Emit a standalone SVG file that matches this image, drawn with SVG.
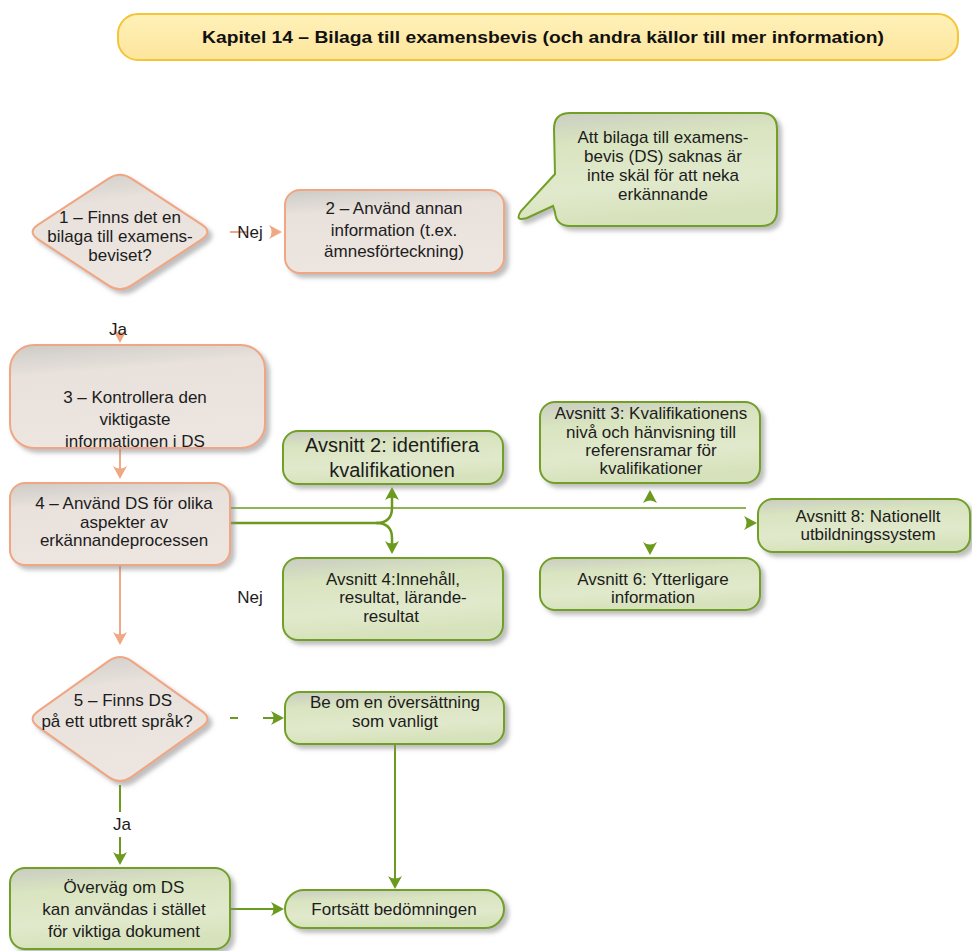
<svg xmlns="http://www.w3.org/2000/svg" width="972" height="951" viewBox="0 0 972 951">
  <defs>
    <style>
      .t { font-family: "Liberation Sans", Arial, sans-serif; font-size: 17px; fill: #1c1c1c; text-anchor: middle; }
      .big { font-size: 20px; }
      .title { font-family: "Liberation Sans", Arial, sans-serif; font-size: 17px; font-weight: bold; fill: #111; text-anchor: middle; }
      .pink { fill: url(#gPink); stroke: #f0a682; stroke-width: 2; filter: url(#sh); }
      .green { fill: url(#gGreen); stroke: #72a027; stroke-width: 2; filter: url(#sh); }
      .cg { stroke: #6b9a1f; fill: none; }
      .cs { stroke: #f0a783; fill: none; stroke-width: 2; }
    </style>
    <filter id="sh" x="-10%" y="-10%" width="130%" height="140%">
      <feDropShadow dx="4" dy="4" stdDeviation="2" flood-color="#8a8a8a" flood-opacity="0.55"/>
    </filter>
    <linearGradient id="gPink" x1="0" y1="0" x2="0.2" y2="1">
      <stop offset="0" stop-color="#cdcbc6"/>
      <stop offset="0.3" stop-color="#e8e1dc"/>
      <stop offset="1" stop-color="#ece5e0"/>
    </linearGradient>
    <linearGradient id="gGreen" x1="0" y1="0" x2="0.2" y2="1">
      <stop offset="0" stop-color="#c9ccc2"/>
      <stop offset="0.3" stop-color="#d9e4c0"/>
      <stop offset="0.7" stop-color="#e1e9cc"/>
      <stop offset="1" stop-color="#d6e2bb"/>
    </linearGradient>
    <linearGradient id="gTitle" x1="0" y1="0" x2="0" y2="1">
      <stop offset="0" stop-color="#fff1b8"/>
      <stop offset="1" stop-color="#fde59c"/>
    </linearGradient>
    <!-- concave arrowheads, tip at origin pointing along +x -->
    <path id="ahG" d="M0,0 L-13,-7 Q-8,0 -13,7 Z" fill="#6b9a1f"/>
    <path id="ahS" d="M0,0 L-13,-7 Q-8,0 -13,7 Z" fill="#f0a783"/>
  </defs>

  <rect width="972" height="951" fill="#ffffff"/>

  <!-- heading -->
  <g id="title">
    <rect x="118" y="14" width="840" height="46" rx="20" fill="url(#gTitle)" stroke="#f6c438" stroke-width="2"/>
    <text class="title" x="543" y="43" textLength="682" lengthAdjust="spacingAndGlyphs">Kapitel 14 – Bilaga till examensbevis (och andra källor till mer information)</text>
  </g>

  <!-- connectors -->
  <g id="connectors">
    <!-- 1 -> 2 (Nej) -->
    <line class="cs" x1="230" y1="232" x2="248" y2="232"/>
    <use href="#ahS" transform="translate(282,232)"/>
    <!-- 1 -> 3 (Ja) -->
    <use href="#ahS" transform="translate(120,343) rotate(90)"/>
    <!-- 3 -> 4 -->
    <line class="cs" x1="120" y1="428" x2="120" y2="470"/>
    <use href="#ahS" transform="translate(120,479) rotate(90)"/>
    <!-- 4 -> 5 -->
    <line class="cs" x1="120" y1="565" x2="120" y2="636"/>
    <use href="#ahS" transform="translate(120,645) rotate(90)"/>

    <!-- 4 -> sections -->
    <line class="cg" stroke-width="1.5" x1="230" y1="508" x2="746" y2="508"/>
    <path class="cg" stroke-width="2.5" d="M230,523 L376,523 Q392,523 392,508 L392,497"/>
    <path class="cg" stroke-width="2.5" d="M376,523 Q392,523 392,538 L392,545"/>
    <use href="#ahG" transform="translate(392,487) rotate(-90)"/>
    <use href="#ahG" transform="translate(392,554) rotate(90)"/>
    <use href="#ahG" transform="translate(650,490) rotate(-90)"/>
    <use href="#ahG" transform="translate(650,555) rotate(90)"/>
    <use href="#ahG" transform="translate(757,523)"/>

    <!-- 5 -> translation -->
    <line class="cg" stroke-width="2" x1="230" y1="718" x2="238" y2="718"/>
    <line class="cg" stroke-width="2" x1="263" y1="718" x2="276" y2="718"/>
    <use href="#ahG" transform="translate(284,718)"/>
    <!-- translation -> continue -->
    <line class="cg" stroke-width="2" x1="395" y1="744" x2="395" y2="880"/>
    <use href="#ahG" transform="translate(395,889) rotate(90)"/>
    <!-- 5 -> consider (Ja) -->
    <line class="cg" stroke-width="2" x1="120" y1="785" x2="120" y2="812"/>
    <line class="cg" stroke-width="2" x1="120" y1="837" x2="120" y2="856"/>
    <use href="#ahG" transform="translate(120,865) rotate(90)"/>
    <!-- consider -> continue -->
    <line class="cg" stroke-width="2" x1="230" y1="909" x2="276" y2="909"/>
    <use href="#ahG" transform="translate(284,909)"/>

    <text class="t" x="250" y="238" font-size="16">Nej</text>
    <text class="t" x="118" y="335" font-size="16">Ja</text>
    <text class="t" x="250" y="603" font-size="16">Nej</text>
    <text class="t" x="122" y="830" font-size="16">Ja</text>
  </g>

  <!-- 1: decision -->
  <g id="n1">
    <path class="pink" d="M131.2,178.3 L201.8,224.7 Q213,232 201.8,239.3 L131.2,285.7 Q120,293 108.8,285.7 L38.2,239.3 Q27,232 38.2,224.7 L108.8,178.3 Q120,171 131.2,178.3 Z"/>
    <text class="t" x="120" y="223">1 – Finns det en</text>
    <text class="t" x="120" y="242">bilaga till examens-</text>
    <text class="t" x="120" y="261">beviset?</text>
  </g>

  <!-- 2 -->
  <g id="n2">
    <rect class="pink" x="285" y="190" width="219" height="83" rx="15"/>
    <text class="t" x="394" y="214">2 – Använd annan</text>
    <text class="t" x="394" y="236">information (t.ex.</text>
    <text class="t" x="394" y="257">ämnesförteckning)</text>
  </g>

  <!-- note -->
  <g id="note">
    <path class="green" d="M570,113 L761,113 Q777,113 777,129 L777,210 Q777,226 761,226 L570,226 Q556,226 555,212 L553,206 Q540,212 527,218 Q514,222 521,211 L555,174 L554,129 Q554,113 570,113 Z"/>
    <text class="t" x="663" y="143">Att bilaga till examens-</text>
    <text class="t" x="663" y="162">bevis (DS) saknas är</text>
    <text class="t" x="663" y="181">inte skäl för att neka</text>
    <text class="t" x="663" y="200">erkännande</text>
  </g>

  <!-- 3 -->
  <g id="n3">
    <rect class="pink" x="10" y="345" width="255" height="103" rx="24"/>
    <text class="t" x="135" y="403">3 – Kontrollera den</text>
    <text class="t" x="135" y="425">viktigaste</text>
    <text class="t" x="135" y="447">informationen i DS</text>
  </g>

  <!-- 4 -->
  <g id="n4">
    <rect class="pink" x="10" y="483" width="220" height="82" rx="15"/>
    <text class="t" x="124" y="509">4 – Använd DS för olika</text>
    <text class="t" x="124" y="528">aspekter av</text>
    <text class="t" x="124" y="546">erkännandeprocessen</text>
  </g>

  <!-- section 2 -->
  <g id="s2">
    <rect class="green" x="283" y="431" width="220" height="53" rx="15"/>
    <text class="t big" x="392" y="452">Avsnitt 2: identifiera</text>
    <text class="t big" x="392" y="477">kvalifikationen</text>
  </g>

  <!-- section 3 -->
  <g id="s3">
    <rect class="green" x="540" y="402" width="220" height="81" rx="15"/>
    <text class="t" x="651" y="419">Avsnitt 3: Kvalifikationens</text>
    <text class="t" x="651" y="438">nivå och hänvisning till</text>
    <text class="t" x="651" y="456">referensramar för</text>
    <text class="t" x="651" y="474">kvalifikationer</text>
  </g>

  <!-- section 8 -->
  <g id="s8">
    <rect class="green" x="758" y="499" width="212" height="53" rx="15"/>
    <text class="t" x="868" y="522">Avsnitt 8: Nationellt</text>
    <text class="t" x="868" y="540">utbildningssystem</text>
  </g>

  <!-- section 6 -->
  <g id="s6">
    <rect class="green" x="540" y="558" width="220" height="52" rx="15"/>
    <text class="t" x="653" y="585">Avsnitt 6: Ytterligare</text>
    <text class="t" x="653" y="603">information</text>
  </g>

  <!-- section 4 -->
  <g id="s4">
    <rect class="green" x="283" y="558" width="220" height="82" rx="15"/>
    <text class="t" x="393" y="585">Avsnitt 4:Innehåll,</text>
    <text class="t" x="403" y="603">resultat, lärande-</text>
    <text class="t" x="391" y="622">resultat</text>
  </g>

  <!-- 5: decision -->
  <g id="n5">
    <path class="pink" d="M131.2,660.9 L201.8,711.1 Q213,719 201.8,726.9 L131.2,777.1 Q120,785 108.8,777.1 L38.2,726.9 Q27,719 38.2,711.1 L108.8,660.9 Q120,653 131.2,660.9 Z"/>
    <text class="t" x="123" y="706">5 – Finns DS</text>
    <text class="t" x="117" y="727">på ett utbrett språk?</text>
  </g>

  <!-- translation -->
  <g id="translate">
    <rect class="green" x="285" y="692" width="219" height="52" rx="15"/>
    <text class="t" x="395" y="708">Be om en översättning</text>
    <text class="t" x="395" y="727">som vanligt</text>
  </g>

  <!-- consider -->
  <g id="consider">
    <rect class="green" x="10" y="868" width="220" height="81" rx="15"/>
    <text class="t" x="124" y="893">Överväg om DS</text>
    <text class="t" x="124" y="915">kan användas i stället</text>
    <text class="t" x="124" y="937">för viktiga dokument</text>
  </g>

  <!-- continue -->
  <g id="continue">
    <rect class="green" x="285" y="890" width="219" height="38" rx="19"/>
    <text class="t" x="394" y="915">Fortsätt bedömningen</text>
  </g>
</svg>
